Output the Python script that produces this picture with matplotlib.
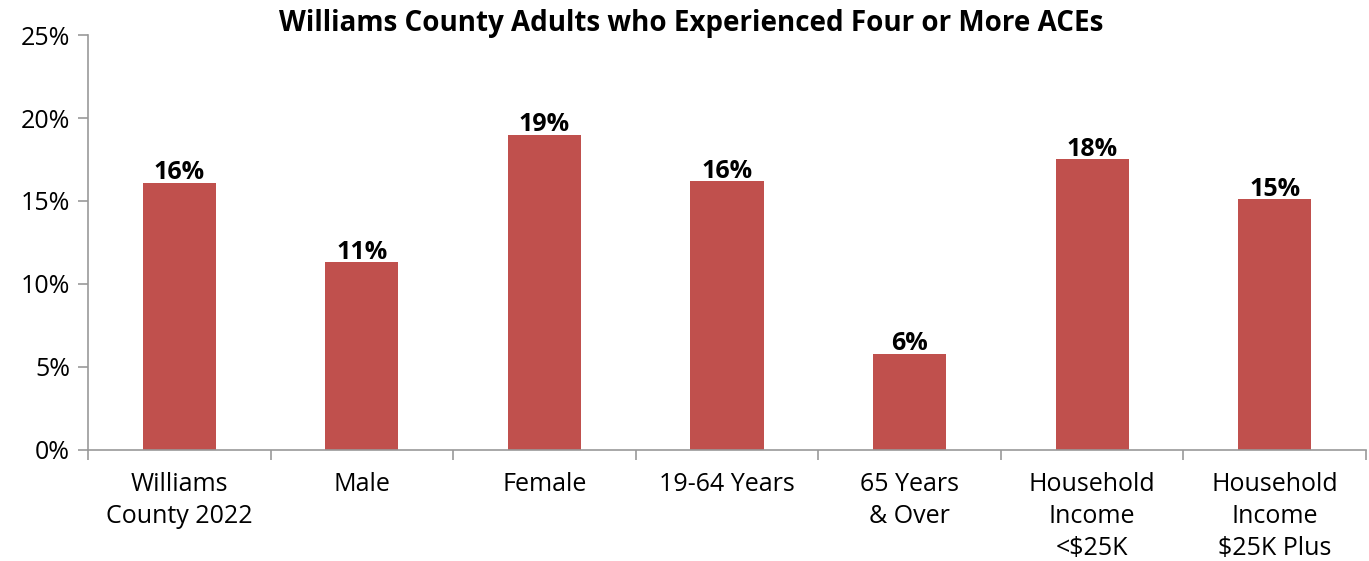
import matplotlib
matplotlib.use("Agg")
import numpy as np
from matplotlib import pyplot as plt
from matplotlib.ticker import FuncFormatter

categories = ["Williams\nCounty 2022", "Male", "Female", "19-64 Years",
              "65 Years\n& Over", "Household\nIncome\n<$25K", "Household\nIncome\n$25K Plus"]
values = [16.1, 11.3, 19.0, 16.2, 5.8, 17.5, 15.1]
labels = ["16%", "11%", "19%", "16%", "6%", "18%", "15%"]

plt.rcParams['font.family'] = ['Open Sans', 'DejaVu Sans']

fig = plt.figure(figsize=(13.69, 5.61), dpi=100)
ax = fig.add_axes([0.0643, 0.1979, 0.9335, 0.7397])

x = np.arange(len(categories))
bars = ax.bar(x, values, width=0.4, color="#C0504D")
for b, lab in zip(bars, labels):
    ax.text(b.get_x() + b.get_width() / 2, b.get_height() - 0.15, lab,
            ha="center", va="bottom", fontsize=18, fontweight="bold")

ax.set_xlim(-0.5, len(categories) - 0.5)
ax.set_ylim(0, 25)
ax.set_yticks(range(0, 26, 5))
ax.yaxis.set_major_formatter(FuncFormatter(lambda v, p: f"{int(v)}%"))
ax.set_xticks(x)
ax.set_xticklabels(categories, fontsize=18, linespacing=1.37)
ax.set_xticks(np.arange(-0.5, len(categories), 1), minor=True)
ax.tick_params(axis="x", which="major", length=0, pad=16)
ax.tick_params(axis="x", which="minor", length=7, color="#999999", width=1.2)
ax.tick_params(axis="y", labelsize=18, length=7, color="#999999", width=1.2, pad=6)

for s in ["top", "right"]:
    ax.spines[s].set_visible(False)
for s in ["left", "bottom"]:
    ax.spines[s].set_color("#999999")
    ax.spines[s].set_linewidth(1.2)

fig.text(0.505, 0.958, "Williams County Adults who Experienced Four or More ACEs",
         ha="center", va="center", fontsize=20, fontweight="bold")

fig.savefig("out.png", dpi=100)
